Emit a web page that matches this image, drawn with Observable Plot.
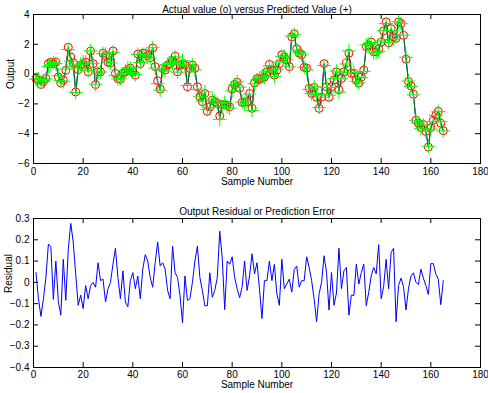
<!DOCTYPE html>
<html>
<head>
<meta charset="utf-8">
<script src="https://cdn.jsdelivr.net/npm/d3@7"></script>
<script src="https://cdn.jsdelivr.net/npm/@observablehq/plot@0.6"></script>
<style>
  html, body { margin: 0; padding: 0; background: #fff; }
  #chart { width: 488px; height: 393px; overflow: hidden; }
  svg { display: block; }
</style>
</head>
<body>
<div id="chart"></div>
<script>
// ---- Data ----
const sampleNumbers = d3.range(1, 166);

const actualOutput = [
  -0.3, -0.4, -0.7, -0.5, -0.3, 0.7, 0.8, 0.7, 0.8, -0.2,
  -0.6, -0.4, 0.25, 1.8, 1.15, 0.75, -1.2, 0.3, 0.6, 0.7,
  0.8, 0.15, 1.55, 0.7, -0.7, 0.15, 0.15, 1.4, 1.25, 0.8,
  0.75, 1.55, 0.05, -0.3, -0.35, 0.05, 0.15, 0.3, 0.4, 0.15,
  -0.07, 1.35, 0.7, 1.4, 1.4, 1.25, 1.1, 1.75, 0.5, -0.45,
  -1.0, 0.38, 0.27, 0.6, 0.7, 0.9, 1.2, 0.15, 0.6, 0.7,
  0.6, -0.85, 0.38, 0.6, 0.38, -0.85, -1.5, -1.85, -1.3, -2.5,
  -2.2, -1.75, -1.85, -1.95, -2.8, -2.05, -2.05, -2.1, -2.2, -1.0,
  -0.7, -0.55, -0.95, -1.9, -1.9, -1.85, -1.3, -2.3, -0.6, -0.3,
  -0.3, -0.3, -0.2, 0.15, 0.65, 0.27, -0.07, 0.27, 0.7, 1.3,
  1.15, 0.95, 0.5, 2.5, 2.7, 1.7, 1.4, 1.3, 0.45, 0.4,
  -0.95, -1.3, -0.9, -1.55, -2.3, -1.55, 0.7, -0.85, -1.55, -0.85,
  -0.4, 0.15, -1.05, -0.3, 0.15, 0.75, 1.4, 0.05, 0.05, -0.4,
  -0.6, -0.2, 0.27, 1.85, 1.95, 2.15, 1.5, 1.5, 1.7, 2.15,
  2.9, 3.5, 2.1, 3.05, 2.5, 2.4, 3.5, 3.4, 2.6, 1.0,
  -0.5, -0.8, -1.35, -3.1, -3.3, -3.6, -3.4, -3.85, -4.9, -3.6,
  -3.1, -2.75, -2.5, -3.3, -3.8
];

const residual = [
  0.046, -0.077, -0.16, -0.077, 0.023, 0.18, 0.165, -0.08, 0.10, -0.09,
  -0.154, 0.108, -0.085, 0.154, 0.277, 0.19, 0.038, -0.108, -0.06, -0.123,
  -0.015, -0.077, -0.015, 0, -0.023, 0.092, 0.008, 0.015, -0.092, -0.03,
  0, 0.085, 0.16, 0.023, -0.077, 0.054, -0.092, -0.115, 0.008, 0.046,
  -0.03, 0.03, -0.077, 0.062, 0.13, 0.1, 0.023, -0.023, 0.092, 0.19,
  0.077, 0.092, 0.062, -0.038, -0.077, 0.17, 0.046, 0.023,
  -0.062, -0.19, 0.03, -0.085, -0.077, 0.0, 0.1, 0.17, 0.023, -0.038, -0.11, -0.11,
  0.045, -0.07, -0.038, 0.023, 0.24, 0.115, -0.128, 0.1, 0.085, 0.12,
  0.023, -0.03, -0.072, -0.023, 0.1, -0.038, 0.03, 0.134, 0.04, 0.092,
  -0.03, -0.17, 0.008, 0.008, 0.1, 0.008, 0.085, -0.054, -0.108, 0.108,
  -0.03, -0.008, 0.015, -0.046, 0.06, 0.077, -0.023, 0.008, 0.008, 0.12,
  0.07, 0.008, -0.077, -0.185, -0.054, 0.0, 0.125,
  0.046, -0.13, 0.046, -0.108, -0.05, 0.16, -0.03, 0.054, 0.07, -0.154, -0.06, -0.062, 0.085,
  -0.008, 0.046, 0.085, -0.11, -0.046, 0.03, 0.07, 0.04, 0.177, -0.077,
  -0.02, 0.108, -0.03, 0.14, 0.16, -0.185, -0.015, 0.02, -0.02, -0.13,
  -0.03, 0.03, 0.045, 0.0, -0.01, 0.062, 0.02, -0.015, -0.057, 0.088,
  0.088, 0.04, 0.015, -0.105, 0.008
];

const xTicks = [0, 20, 40, 60, 80, 100, 120, 140, 160, 180];
const yTicksTop = [-6, -4, -2, 0, 2, 4];
const yTicksBottom = [-0.4, -0.3, -0.2, -0.1, 0, 0.1, 0.2, 0.3];

const topTitle = "Actual value (o) versus Predicted Value (+)";
const bottomTitle = "Output Residual or Prediction Error";
const xLabel = "Sample Number";
const topYLabel = "Output";
const bottomYLabel = "Residual";

// Predicted = actual − residual (residual is the prediction error)
const rows = sampleNumbers.map((n, i) => ({
  n,
  actual: actualOutput[i],
  residual: residual[i],
  predicted: actualOutput[i] - residual[i]
}));

const W = 488;
const ML = 33, MR = 8;
const FW = W - ML - MR;   // frame width
const FH = 149;           // frame height
const TL = 5;             // tick length
const fmt = d3.format("~g");

const baseStyle = {
  fontFamily: "'Liberation Sans', Arial, Helvetica, sans-serif",
  fontSize: "10px",
  background: "white",
  color: "black",
  overflow: "visible"
};

function boxMarks(yTicks, pad) {
  return [
    Plot.frame({stroke: "black", strokeWidth: 1}),
    Plot.ruleX(xTicks, {x: d => d, insetTop: FH - TL, stroke: "black"}),
    Plot.ruleX(xTicks, {x: d => d, insetBottom: FH - TL, stroke: "black"}),
    Plot.ruleY(yTicks, {y: d => d, insetRight: FW - TL, stroke: "black"}),
    Plot.ruleY(yTicks, {y: d => d, insetLeft: FW - TL, stroke: "black"}),
    Plot.axisX(xTicks, {tickSize: 0, tickPadding: pad, label: null, tickFormat: fmt}),
    Plot.axisY(yTicks, {tickSize: 0, tickPadding: 4, label: null, tickFormat: fmt})
  ];
}

const topPlot = Plot.plot({
  width: W, height: 196,
  marginLeft: ML, marginRight: MR, marginTop: 14, marginBottom: 33,
  x: {domain: [0, 180]},
  y: {domain: [-6, 4]},
  style: baseStyle,
  marks: [
    Plot.line(rows, {x: "n", y: "actual", stroke: "#0000ff", strokeWidth: 1}),
    Plot.line(rows, {x: "n", y: "predicted", stroke: "#008000", strokeWidth: 1}),
    Plot.dot(rows, {x: "n", y: "actual", r: 4, stroke: "#ff0000", fill: "none", strokeWidth: 1}),
    Plot.dot(rows, {x: "n", y: "predicted", symbol: "plus", r: 4.5, stroke: "#00ff00", strokeWidth: 1}),
    ...boxMarks(yTicksTop, 4),
    Plot.text([topTitle], {text: d => d, frameAnchor: "top", dy: -9}),
    Plot.text([xLabel], {text: d => d, frameAnchor: "bottom", dy: 21}),
    Plot.text([topYLabel], {text: d => d, frameAnchor: "left", dx: -23, rotate: -90})
  ]
});

const bottomPlot = Plot.plot({
  width: W, height: 197,
  marginLeft: ML, marginRight: MR, marginTop: 22, marginBottom: 26,
  x: {domain: [0, 180]},
  y: {domain: [-0.4, 0.3]},
  style: baseStyle,
  marks: [
    Plot.line(rows, {x: "n", y: "residual", stroke: "#0000ff", strokeWidth: 1}),
    ...boxMarks(yTicksBottom, 3),
    Plot.text([bottomTitle], {text: d => d, frameAnchor: "top", dy: -11}),
    Plot.text([xLabel], {text: d => d, frameAnchor: "bottom", dy: 20.5}),
    Plot.text([bottomYLabel], {text: d => d, frameAnchor: "left", dx: -25, rotate: -90})
  ]
});

const chart = document.getElementById("chart");
chart.appendChild(topPlot);
chart.appendChild(bottomPlot);
</script>
</body>
</html>
